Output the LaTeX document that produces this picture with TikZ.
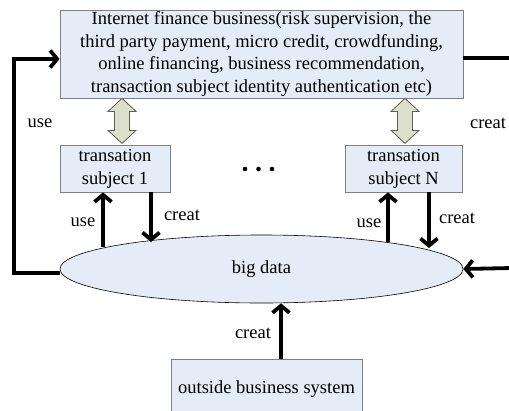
\documentclass[tikz,border=0pt]{standalone}
\usepackage{fontspec}
\setmainfont{Liberation Serif}
\usetikzlibrary{arrows.meta,shapes.geometric}
\definecolor{boxfill}{HTML}{E4ECF7}
\definecolor{boxline}{HTML}{7F7F7F}
\definecolor{dblfill}{HTML}{DCDFC9}
\definecolor{dblline}{HTML}{5F5F52}
\tikzset{
  every node/.style={font=\fontsize{18.5}{22.8}\selectfont},
  box/.style={draw=boxline, line width=0.8pt, fill=boxfill, inner sep=0pt, align=center},
  flow/.style={line width=3.8pt, -{Straight Barb[length=7pt,width=17pt]}},
  bar/.style={line width=3.8pt},
  lbl/.style={inner sep=0pt},
  dbl/.pic={
    \draw[draw=dblline, fill=dblfill, line width=0.8pt, line join=miter]
      (0,0) -- (14,13) -- (7.5,13) -- (7.5,32) -- (14,32) -- (0,45)
      -- (-14,32) -- (-7.5,32) -- (-7.5,13) -- (-14,13) -- cycle;
  }
}
\begin{document}
\begin{tikzpicture}[x=1pt, y=-1pt]
\useasboundingbox (0,0) rectangle (509,410);

% business layer
\node[box, minimum width=403pt, minimum height=88pt] (top) at (261.5,54)
  {Internet finance business(risk supervision, the\\
   third party payment, micro credit, crowdfunding,\\
   online financing, business recommendation,\\
   transaction subject identity authentication etc)};

% transaction subjects
\node[box, minimum width=110pt, minimum height=47pt] (s1) at (115,168.5)
  {transation\\subject 1};
\node[box, minimum width=117pt, minimum height=47pt] (sN) at (403.5,168.5)
  {transation\\subject N};
\foreach \dx in {245,258.5,272} \fill (\dx,169) circle (2.3pt);

% data layer
\node[ellipse, draw=black, line width=0.6pt, fill=boxfill, inner sep=0pt,
      minimum width=403pt, minimum height=68pt] (big) at (261.5,269) {big data};

% external source
\node[box, minimum width=191pt, minimum height=60pt] (out) at (266.5,389)
  {outside business system};

% two-way links between business layer and subjects
\pic at (122,0 |- top.south) {dbl};
\pic at (405,0 |- top.south) {dbl};

% subject 1 <-> big data
\draw[flow] (103,247) -- (103,0 |- s1.south);
\draw[flow] (151,0 |- s1.south) -- (151,242);
\node[lbl] at (83,222) {use};
\node[lbl] at (182,215) {creat};

% subject N <-> big data
\draw[flow] (388,242) -- (388,0 |- sN.south);
\draw[flow] (429,0 |- sN.south) -- (429,248);
\node[lbl] at (369,223) {use};
\node[lbl] at (457,218) {creat};

% outside system feeds big data
\draw[flow] (281,0 |- out.north) -- (281,0 |- big.south);
\node[lbl] at (253,333) {creat};

% big data used by the business layer
\coordinate (loop) at (14,59);
\draw[flow, line join=miter] ([yshift=-4pt]big.west) -| (loop) -- ([yshift=-5pt]top.west);
\node[lbl] at (40,123) {use};

% business layer creates data (loop on the right)
\coordinate (rtop) at (512,58);
\coordinate (rbot) at (512,268);
\draw[bar] ([yshift=-4pt]top.east) -- (rtop);
\draw[flow] (rbot) -- (big.east);
\node[lbl] at (488,123) {creat};
\end{tikzpicture}
\end{document}
